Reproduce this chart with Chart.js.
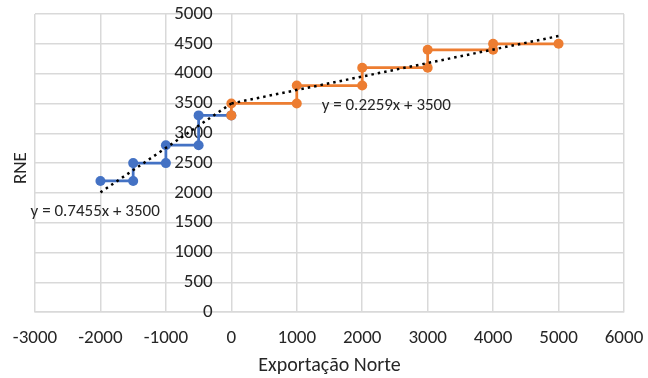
<!DOCTYPE html>
<html>
<head>
<meta charset="utf-8">
<script src="https://cdn.jsdelivr.net/npm/chart.js@4/dist/chart.umd.min.js"></script>
<style>
html,body{margin:0;padding:0;background:#fff;}
#wrap{width:648px;height:378px;}
</style>
</head>
<body>
<div id="wrap"><canvas id="c" width="648" height="378"></canvas></div>
<script>
// Series
const blueX = [-2000, -1500, -1500, -1000, -1000, -500, -500, 0];
const blueY = [2200, 2200, 2500, 2500, 2800, 2800, 3300, 3300];
const orangeX = [0, 0, 1000, 1000, 2000, 2000, 3000, 3000, 4000, 4000, 5000];
const orangeY = [3300, 3500, 3500, 3800, 3800, 4100, 4100, 4400, 4400, 4500, 4500];
// Trendline endpoints (as drawn)
const blueTrendX = [-2000, 0];
const blueTrendY = [2009, 3500];
const orangeTrendX = [0, 5000];
const orangeTrendY = [3500, 4630];
const blueEquation = "y = 0.7455x + 3500";
const orangeEquation = "y = 0.2259x + 3500";
const xTitle = "Exportação Norte";
const yTitle = "RNE";

const FONT = "Carlito, Lato, 'Open Sans', sans-serif";
const TXT = "#262626";
const GRID = "#d9d9d9";

function pts(xs, ys){ return xs.map((x,i)=>({x:x, y:ys[i]})); }

const textPlugin = {
  id: 'textPlugin',
  afterDatasetsDraw(chart){
    const ctx = chart.ctx;
    const xs = chart.scales.x, ys = chart.scales.y;
    const a = chart.chartArea;
    ctx.save();
    ctx.fillStyle = TXT;
    ctx.font = "17px " + FONT;
    ctx.textBaseline = 'middle';
    ctx.textAlign = 'center';
    ctx.fillText(blueEquation, xs.getPixelForValue(-2080), ys.getPixelForValue(1680));
    ctx.textAlign = 'left';
    ctx.fillText(orangeEquation, xs.getPixelForValue(1380), ys.getPixelForValue(3460));
    // x title
    ctx.font = "20px " + FONT;
    ctx.textAlign = 'center';
    ctx.fillText(xTitle, (a.left + a.right) / 2, a.bottom + 54);
    // y title
    ctx.font = "19px " + FONT;
    ctx.translate(21, (a.top + a.bottom) / 2 + 5);
    ctx.rotate(-Math.PI / 2);
    ctx.fillText(yTitle, 0, 0);
    ctx.restore();
  }
};

new Chart(document.getElementById('c'), {
  type: 'scatter',
  data: {
    datasets: [
      { label: 'trendB', data: pts(blueTrendX, blueTrendY), showLine: true, borderColor: '#000', borderWidth: 2.5, borderDash: [2.5, 4], pointRadius: 0, order: 0 },
      { label: 'trendO', data: pts(orangeTrendX, orangeTrendY), showLine: true, borderColor: '#000', borderWidth: 2.5, borderDash: [2.5, 4], pointRadius: 0, order: 0 },
      { label: 'Orange', data: pts(orangeX, orangeY), showLine: true, borderColor: '#ED7D31', backgroundColor: '#ED7D31', borderWidth: 2.75, pointRadius: 5, pointBorderWidth: 0, order: 1 },
      { label: 'Blue', data: pts(blueX, blueY), showLine: true, borderColor: '#4472C4', backgroundColor: '#4472C4', borderWidth: 2.75, pointRadius: 5, pointBorderWidth: 0, order: 2 }
    ]
  },
  options: {
    responsive: false,
    animation: false,
    devicePixelRatio: 1,
    layout: { padding: { left: 35, right: 24, top: 14, bottom: 14 } },
    plugins: { legend: { display: false }, tooltip: { enabled: false } },
    scales: {
      x: {
        type: 'linear', min: -3000, max: 6000,
        afterFit: s => { s.paddingLeft = 0; s.paddingRight = 0; },
        ticks: { stepSize: 1000, color: TXT, font: { family: FONT, size: 19 }, padding: 14.5, maxRotation: 0, callback: v => String(v) },
        grid: { color: GRID, lineWidth: 1.5, drawTicks: false },
        border: { color: GRID, width: 1.5 },
        title: { display: false }
      },
      y: {
        type: 'linear', min: 0, max: 5000, position: { x: -285 },
        afterFit: s => { s.paddingTop = 0; s.paddingBottom = 0; },
        ticks: { stepSize: 500, color: TXT, font: { family: FONT, size: 19 }, callback: v => String(v) },
        grid: { color: GRID, lineWidth: 1.5, drawTicks: false },
        border: { display: false }
      }
    }
  },
  plugins: [textPlugin]
});
</script>
</body>
</html>
